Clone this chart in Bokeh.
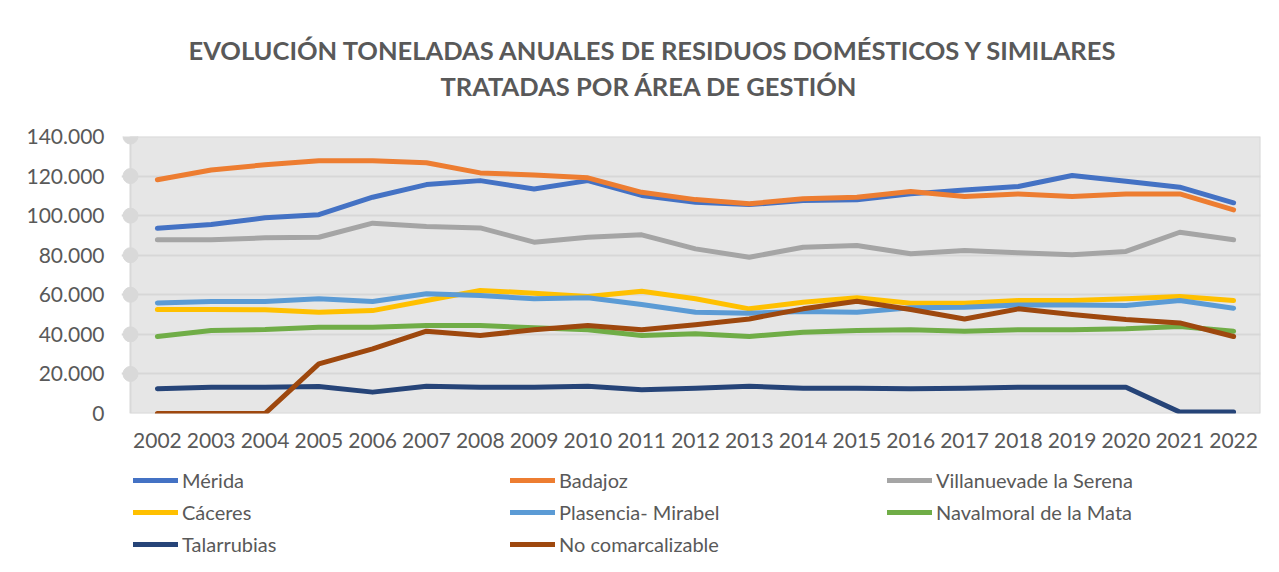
from bokeh.plotting import figure
from bokeh.layouts import column
from bokeh.models import Title, Legend, LegendItem, FixedTicker
from bokeh.embed import file_html
from bokeh.resources import INLINE

title_line1 = "EVOLUCIÓN TONELADAS ANUALES DE RESIDUOS DOMÉSTICOS Y SIMILARES"
title_line2 = "TRATADAS POR ÁREA DE GESTIÓN"

years = ["2002", "2003", "2004", "2005", "2006", "2007", "2008", "2009", "2010", "2011",
         "2012", "2013", "2014", "2015", "2016", "2017", "2018", "2019", "2020", "2021", "2022"]

merida = [93600, 95500, 98900, 100500, 109300, 115700, 117700, 113500, 117700, 110200, 106800,
          105600, 107600, 108000, 111000, 113000, 114700, 120300, 117400, 114400, 106500]
badajoz = [118100, 123100, 125700, 127800, 127800, 126700, 121600, 120600, 119100, 111800, 108100,
           106000, 108500, 109300, 112200, 109700, 111000, 109700, 111000, 111000, 102900]
villanueva = [87800, 87800, 88800, 89100, 96200, 94500, 93800, 86600, 89100, 90300, 83200,
              79000, 84000, 84900, 80700, 82400, 81200, 80200, 81900, 91600, 87800]
caceres = [52600, 52600, 52400, 51200, 52000, 57100, 62200, 60800, 59100, 61800, 58000,
           52900, 56200, 58500, 55700, 55700, 57100, 57100, 58000, 59100, 57100]
plasencia = [55900, 56600, 56600, 58000, 56600, 60500, 59600, 58000, 58500, 55100, 51200,
             50700, 51500, 51200, 53400, 53700, 54900, 54900, 54600, 57100, 53200]
navalmoral = [38900, 41900, 42400, 43600, 43600, 44500, 44500, 43300, 42300, 39400, 40300,
              38900, 41100, 41900, 42300, 41600, 42300, 42300, 42800, 44000, 41600]
talarrubias = [12500, 13300, 13300, 13600, 10800, 13800, 13300, 13300, 13800, 12000, 12800,
               13800, 12800, 12800, 12500, 12800, 13300, 13300, 13300, 700, 700]
no_comarcalizable = [0, 0, 0, 25100, 32700, 41600, 39400, 42300, 44500, 42300, 44800,
                     47800, 52900, 56700, 52600, 47800, 52900, 50000, 47500, 45800, 38900]

series_names = ["Mérida", "Badajoz", "Villanuevade la Serena", "Cáceres", "Plasencia- Mirabel",
                "Navalmoral de la Mata", "Talarrubias", "No comarcalizable"]
series_values = [merida, badajoz, villanueva, caceres, plasencia, navalmoral, talarrubias, no_comarcalizable]
series_colors = ["#4472c4", "#ed7d31", "#a5a5a5", "#ffc000", "#5b9bd5", "#70ad47", "#264478", "#9e480e"]

y_ticks = [0, 20000, 40000, 60000, 80000, 100000, 120000, 140000]
y_tick_labels = ["0", "20.000", "40.000", "60.000", "80.000", "100.000", "120.000", "140.000"]

TEXT = "#595959"
FONT = "Lato"

xs = list(range(len(years)))
x_lo = xs[0] - 0.5
x_hi = xs[-1] + 0.5

p = figure(frame_width=1139, frame_height=277, output_backend="svg", toolbar_location=None,
           x_range=(x_lo - 0.167, x_hi), y_range=(y_ticks[0], y_ticks[-1]),
           min_border_left=121, min_border_right=15, min_border_top=136, min_border_bottom=43,
           title_location=None)
p.outline_line_color = None
p.background_fill_color = "white"
p.border_fill_color = "white"

# plot area background
p.quad(left=[x_lo], right=[x_hi], bottom=[y_ticks[0]], top=[y_ticks[-1]],
       fill_color="#e6e6e6", line_color="#d9d9d9", line_width=2, level="image")

p.xgrid.visible = False
p.ygrid.ticker = FixedTicker(ticks=y_ticks)
p.ygrid.grid_line_color = "#d7d7d7"
p.ygrid.grid_line_width = 2

# axis marker circles
p.scatter(x=[x_lo] * (len(y_ticks) - 1), y=y_ticks[1:], size=15, color="#d9d9d9")

for name, vals, col in zip(series_names, series_values, series_colors):
    p.line(xs, vals, line_width=5, color=col, line_cap="round", line_join="round")

# axes
p.yaxis.ticker = FixedTicker(ticks=y_ticks)
p.yaxis.major_label_overrides = {t: l for t, l in zip(y_ticks, y_tick_labels)}
p.xaxis.ticker = FixedTicker(ticks=xs)
p.xaxis.major_label_overrides = {i: y for i, y in zip(xs, years)}
for ax in (p.xaxis[0], p.yaxis[0]):
    ax.axis_line_color = None
    ax.major_tick_line_color = None
    ax.minor_tick_line_color = None
    ax.major_label_text_color = TEXT
    ax.major_label_text_font = FONT
    ax.major_label_text_font_size = "21px"
p.yaxis.major_label_standoff = 11
p.xaxis.major_label_standoff = 13

t2 = Title(text=title_line2, align="left", offset=319, standoff=71,
           text_font=FONT, text_font_size="25.5px", text_font_style="bold", text_color=TEXT)
t1 = Title(text=title_line1, align="left", offset=67, standoff=-62,
           text_font=FONT, text_font_size="25.5px", text_font_style="bold", text_color=TEXT)
p.add_layout(t2, "above")
p.add_layout(t1, "above")

# legend strip below the chart (series drawn outside its visible range, only legend shows)
lg = figure(width=1275, height=114, output_backend="svg", toolbar_location=None,
            x_range=(x_lo, x_hi), y_range=(-2, -1), min_border_left=121, min_border_right=0,
            min_border_top=0, min_border_bottom=0, title_location=None)
lg.axis.visible = False
lg.grid.visible = False
lg.outline_line_color = None
lg.background_fill_color = "white"
lg.border_fill_color = "white"
legend_renderers = [lg.line(xs, vals, line_width=5, color=c, line_cap="round")
                    for vals, c in zip(series_values, series_colors)]
legend = Legend(items=[LegendItem(label=n, renderers=[r]) for n, r in zip(series_names, legend_renderers)],
                orientation="horizontal", ncols=3, location="top_left",
                glyph_width=45, glyph_height=22, label_height=22, label_standoff=4,
                label_width=320, spacing=8, padding=12, margin=12,
                border_line_color=None, background_fill_alpha=0,
                label_text_font=FONT, label_text_font_size="20px", label_text_color=TEXT)
lg.add_layout(legend, "center")

layout = column(p, lg, spacing=0)
open("out.html", "w").write(file_html(layout, INLINE))
